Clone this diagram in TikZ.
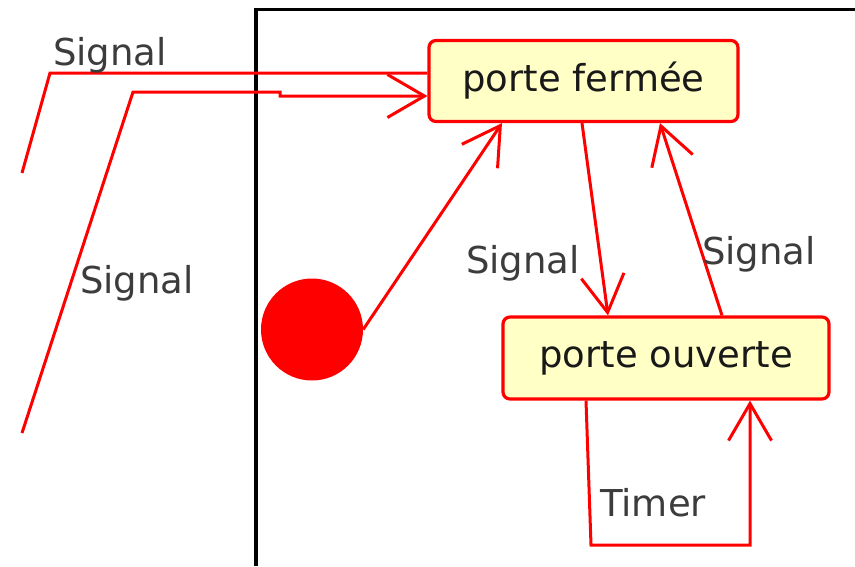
\documentclass[tikz,border=0pt]{standalone}
\usepackage{fontspec}
\setmainfont{DejaVu Sans}
\usetikzlibrary{arrows.meta,calc}
\definecolor{statefill}{HTML}{FFFFC6}
\definecolor{labelgray}{HTML}{3C3C3C}
\tikzset{
  statebox/.style={draw=red, line width=3.2pt, fill=statefill, rounded corners=7pt,
    inner sep=0pt, font=\fontsize{37}{40}\selectfont, text=black!90},
  trans/.style={draw=red, line width=3pt, line join=miter},
  opentip/.style={-{Straight Barb[length=37pt,width=43pt]}},
  lbl/.style={anchor=base west, inner sep=0pt, font=\fontsize{37}{40}\selectfont, text=labelgray},
}
\begin{document}
\begin{tikzpicture}[x=1pt,y=-1pt]
\useasboundingbox (0,0) rectangle (855,566);

% frame of the state machine
\draw[line width=3.5pt, black] (256,566) -- (256,9.5) -- (855,9.5);

% states
\node[statebox, minimum width=309, minimum height=81] (pf) at (583.5,81) {porte fermée};
\node[statebox, minimum width=326, minimum height=82] (po) at (666,358) {porte ouverte};

% initial pseudo-state
\node[circle, fill=red, minimum size=102, inner sep=0pt] (init) at (312,329.5) {};

% free ends of the incoming signals
\coordinate (s1) at (22,173);
\coordinate (s2) at (22,433);

% transitions
\draw[trans, opentip] (init.east) -- ($(pf.south)+(-81.5,0)$);
\draw[trans, opentip] ($(pf.south)+(-1.5,0)$) -- ($(po.north)+(-58,0)$);
\draw[trans, opentip] ($(po.north)+(56,0)$) -- ($(pf.south)+(76.5,0)$);
\draw[trans, opentip] ($(po.south)+(-80,0)$) -- (591,545) -- (750,545) -- ($(po.south)+(84,0)$);
\draw[trans] (s1) -- (50,73) -- ($(pf.west)+(0,-8)$);
\draw[trans, opentip] (s2) -- (133,92) -- (280,92) -- (280,96) -- ($(pf.west)+(0,15)$);

% labels
\node[lbl] (l1) at (53,65) {Signal};
\node[lbl] (l2) at (80,293) {Signal};
\node[lbl] (l3) at (466,273) {Signal};
\node[lbl] (l4) at (702,264) {Signal};
\node[lbl] (l5) at (600,516) {Timer};
\end{tikzpicture}
\end{document}
